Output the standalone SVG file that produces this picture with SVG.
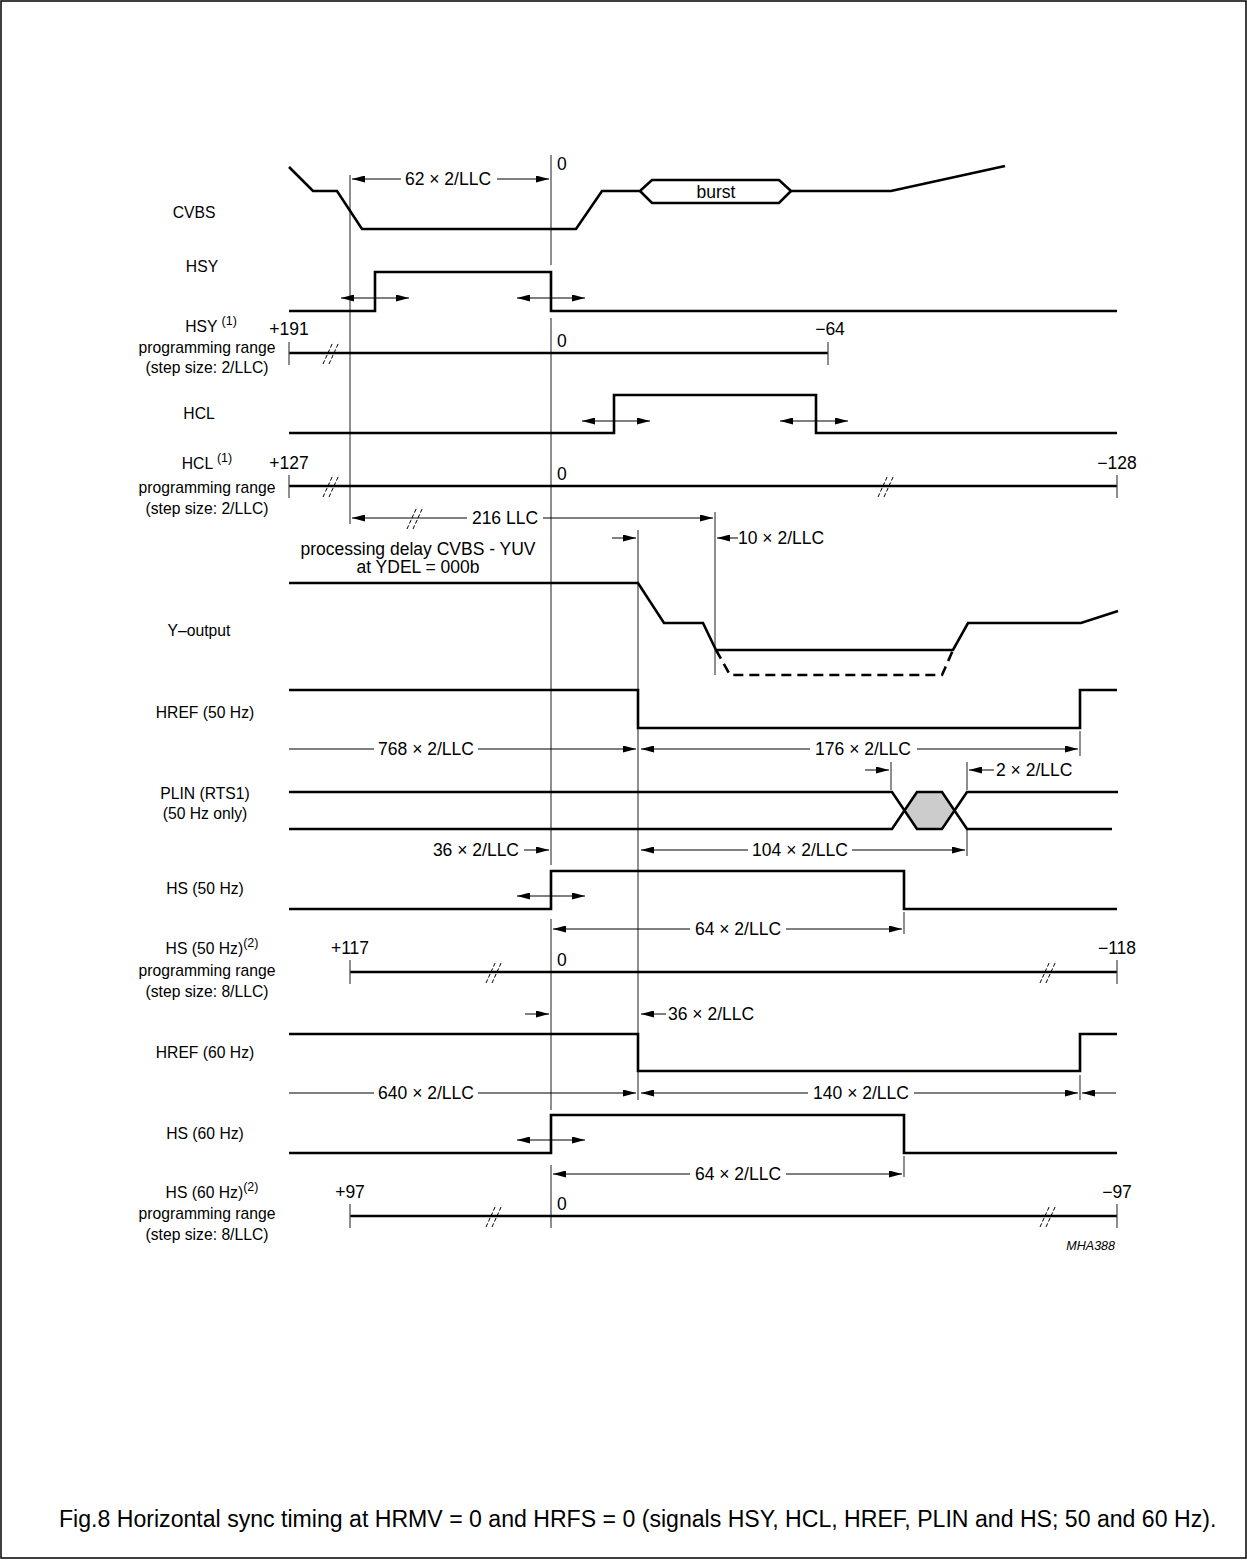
<svg xmlns="http://www.w3.org/2000/svg" width="1247" height="1560" viewBox="0 0 1247 1560">
<style>
.t{font-family:"Liberation Sans",Arial,Helvetica,sans-serif;font-size:17.5px;fill:#000}
.l{font-family:"Liberation Sans",Arial,Helvetica,sans-serif;font-size:15.7px;fill:#000;text-anchor:middle}
.m{text-anchor:middle}
.e{text-anchor:end}
.sup{font-size:12.5px}
.sig{fill:none;stroke:#000;stroke-width:2.6;stroke-linejoin:miter;stroke-linecap:butt}
.ref{fill:none;stroke:#444;stroke-width:1.2}
.dim{fill:none;stroke:#000;stroke-width:1}
.brk{fill:none;stroke:#000;stroke-width:1;stroke-dasharray:4 2}
.dash{fill:none;stroke:#000;stroke-width:2.6;stroke-dasharray:10 6}
</style>
<defs>
<marker id="a" viewBox="0 0 13 7" refX="13" refY="3.5" markerWidth="13" markerHeight="7" markerUnits="userSpaceOnUse" orient="auto-start-reverse"><path d="M0,0L13,3.5L0,7z" fill="#000"/></marker>
<g id="br"><path class="brk" d="M-8,11L2,-11M-2,11L8,-11"/></g>
</defs>
<rect x="1" y="1" width="1245" height="1557" fill="#fff" stroke="#000" stroke-width="1.5"/>

<g id="reference-lines">
<path class="ref" d="M350,175V524"/>
<path class="ref" d="M551,155V265M551,318V865M551,919V1110M551,1165V1228"/>
<path class="ref" d="M638,530V1100"/>
<path class="ref" d="M715,512V675"/>
<path class="ref" d="M891,762V790"/>
<path class="ref" d="M967,762V790M967,830V856"/>
<path class="ref" d="M1080,731V756"/>
<path class="ref" d="M904,912V934"/>
<path class="ref" d="M1080,1075V1100"/>
<path class="ref" d="M904,1156V1177"/>
</g>

<g id="labels">
<text class="l" x="194" y="218">CVBS</text>
<text class="l" x="202" y="272">HSY</text>
<text class="l" x="211" y="332">HSY <tspan class="sup" dy="-7">(1)</tspan></text>
<text class="l" x="207" y="353">programming range</text>
<text class="l" x="207" y="373">(step size: 2/LLC)</text>
<text class="l" x="199" y="419">HCL</text>
<text class="l" x="207" y="469">HCL <tspan class="sup" dy="-7">(1)</tspan></text>
<text class="l" x="207" y="493">programming range</text>
<text class="l" x="207" y="514">(step size: 2/LLC)</text>
<text class="t m" x="418" y="555">processing delay CVBS - YUV</text>
<text class="t m" x="418" y="573">at YDEL = 000b</text>
<text class="l" x="199" y="636">Y–output</text>
<text class="l" x="205" y="718">HREF (50 Hz)</text>
<text class="l" x="205" y="799">PLIN (RTS1)</text>
<text class="l" x="205" y="819">(50 Hz only)</text>
<text class="l" x="205" y="894">HS (50 Hz)</text>
<text class="l" x="212" y="954">HS (50 Hz)<tspan class="sup" dy="-7">(2)</tspan></text>
<text class="l" x="207" y="976">programming range</text>
<text class="l" x="207" y="997">(step size: 8/LLC)</text>
<text class="l" x="205" y="1058">HREF (60 Hz)</text>
<text class="l" x="205" y="1139">HS (60 Hz)</text>
<text class="l" x="212" y="1198">HS (60 Hz)<tspan class="sup" dy="-7">(2)</tspan></text>
<text class="l" x="207" y="1219">programming range</text>
<text class="l" x="207" y="1240">(step size: 8/LLC)</text>
</g>

<g id="cvbs">
<path class="sig" d="M289,167L313,191L337,191L362,229L576,229L602,191L640,191L652,180L779,180L791,191L891,191L1005,166"/>
<path class="sig" d="M640,191L652,203L779,203L791,191"/>
<text class="t m" x="716" y="198">burst</text>
<text class="t" x="557" y="170">0</text>
</g>

<g id="hsy">
<path class="sig" d="M289,311H375V272H551V311H1117"/>
</g>

<g id="hsy-range">
<path class="sig" d="M289,353H828"/>
<path class="ref" d="M289,342V365M828,342V365"/>
<use href="#br" x="331" y="353"/>
<text class="t m" x="289" y="335">+191</text>
<text class="t" x="557" y="347">0</text>
<text class="t m" x="830" y="335">−64</text>
</g>

<g id="hcl">
<path class="sig" d="M289,433H614V395H816V433H1117"/>
</g>

<g id="hcl-range">
<path class="sig" d="M289,486H1117"/>
<path class="ref" d="M289,475V498M1117,475V498"/>
<use href="#br" x="331" y="486"/>
<use href="#br" x="886" y="486"/>
<text class="t m" x="289" y="469">+127</text>
<text class="t" x="557" y="480">0</text>
<text class="t m" x="1117" y="469">−128</text>
</g>

<g id="y-output">
<path class="sig" d="M289,583H638L664,623H703L716,650H953L968,623H1081L1118,611"/>
<path class="dash" d="M716,650L730,675H942L953,650"/>
</g>

<g id="href-50">
<path class="sig" d="M289,690H638V728H1080V690H1117"/>
</g>

<g id="plin">
<path d="M904,810.5L917,792H942L954,810.5L942,829H917Z" fill="#ccc" stroke="none"/>
<path class="sig" d="M289,792H892L917,829H942L967,792H1118"/>
<path class="sig" d="M289,829H892L917,792H942L967,829H1112"/>
</g>

<g id="hs-50">
<path class="sig" d="M289,909H551V871H904V909H1117"/>
</g>

<g id="hs-50-range">
<path class="sig" d="M350,972H1117"/>
<path class="ref" d="M350,960V984M1117,960V984"/>
<use href="#br" x="494" y="972"/>
<use href="#br" x="1048" y="972"/>
<text class="t m" x="350" y="954">+117</text>
<text class="t" x="557" y="966">0</text>
<text class="t m" x="1117" y="954">−118</text>
</g>

<g id="href-60">
<path class="sig" d="M289,1034H638V1071H1080V1034H1117"/>
</g>

<g id="hs-60">
<path class="sig" d="M289,1153H551V1115H904V1153H1117"/>
</g>

<g id="hs-60-range">
<path class="sig" d="M350,1216H1117"/>
<path class="ref" d="M350,1204V1228M1117,1204V1228"/>
<use href="#br" x="494" y="1216"/>
<use href="#br" x="1048" y="1216"/>
<text class="t m" x="350" y="1198">+97</text>
<text class="t" x="557" y="1210">0</text>
<text class="t m" x="1117" y="1198">−97</text>
</g>

<g id="connectors">
<path class="dim" d="M401,179H352" marker-end="url(#a)"/>
<path class="dim" d="M497,179H549" marker-end="url(#a)"/>
<text class="t m" x="448" y="185">62 × 2/LLC</text>

<path class="dim" d="M341,298H409" marker-start="url(#a)" marker-end="url(#a)"/>
<path class="dim" d="M517,298H585" marker-start="url(#a)" marker-end="url(#a)"/>
<path class="dim" d="M582,421H650" marker-start="url(#a)" marker-end="url(#a)"/>
<path class="dim" d="M780,421H848" marker-start="url(#a)" marker-end="url(#a)"/>

<path class="dim" d="M467,518H352" marker-end="url(#a)"/>
<path class="dim" d="M543,518H713" marker-end="url(#a)"/>
<use href="#br" x="415" y="518"/>
<text class="t m" x="505" y="524">216 LLC</text>

<path class="dim" d="M612,538H636" marker-end="url(#a)"/>
<path class="dim" d="M738,538H717" marker-end="url(#a)"/>
<text class="t" x="738" y="544">10 × 2/LLC</text>

<path class="dim" d="M289,749H374"/>
<path class="dim" d="M478,749H636" marker-end="url(#a)"/>
<text class="t m" x="426" y="755">768 × 2/LLC</text>
<path class="dim" d="M810,749H641" marker-end="url(#a)"/>
<path class="dim" d="M917,749H1078" marker-end="url(#a)"/>
<text class="t m" x="863" y="755">176 × 2/LLC</text>

<path class="dim" d="M865,770H889" marker-end="url(#a)"/>
<path class="dim" d="M994,770H969" marker-end="url(#a)"/>
<text class="t" x="996" y="776">2 × 2/LLC</text>

<path class="dim" d="M524,850H549" marker-end="url(#a)"/>
<text class="t e" x="519" y="856">36 × 2/LLC</text>
<path class="dim" d="M748,850H641" marker-end="url(#a)"/>
<path class="dim" d="M852,850H965" marker-end="url(#a)"/>
<text class="t m" x="800" y="856">104 × 2/LLC</text>

<path class="dim" d="M517,896H585" marker-start="url(#a)" marker-end="url(#a)"/>

<path class="dim" d="M690,929H553" marker-end="url(#a)"/>
<path class="dim" d="M786,929H902" marker-end="url(#a)"/>
<text class="t m" x="738" y="935">64 × 2/LLC</text>

<path class="dim" d="M525,1014H549" marker-end="url(#a)"/>
<path class="dim" d="M666,1014H641" marker-end="url(#a)"/>
<text class="t" x="668" y="1020">36 × 2/LLC</text>

<path class="dim" d="M289,1093H374"/>
<path class="dim" d="M478,1093H636" marker-end="url(#a)"/>
<text class="t m" x="426" y="1099">640 × 2/LLC</text>
<path class="dim" d="M808,1093H641" marker-end="url(#a)"/>
<path class="dim" d="M914,1093H1078" marker-end="url(#a)"/>
<text class="t m" x="861" y="1099">140 × 2/LLC</text>
<path class="dim" d="M1116,1093H1082" marker-end="url(#a)"/>

<path class="dim" d="M517,1140H585" marker-start="url(#a)" marker-end="url(#a)"/>

<path class="dim" d="M690,1174H553" marker-end="url(#a)"/>
<path class="dim" d="M786,1174H902" marker-end="url(#a)"/>
<text class="t m" x="738" y="1180">64 × 2/LLC</text>
</g>

<text class="t e" x="1115" y="1250" style="font-size:12.5px;font-style:italic">MHA388</text>
<text class="t" x="59" y="1527" style="font-size:23.1px">Fig.8  Horizontal sync timing at HRMV = 0 and HRFS = 0 (signals HSY, HCL, HREF, PLIN and HS; 50 and 60 Hz).</text>
</svg>
